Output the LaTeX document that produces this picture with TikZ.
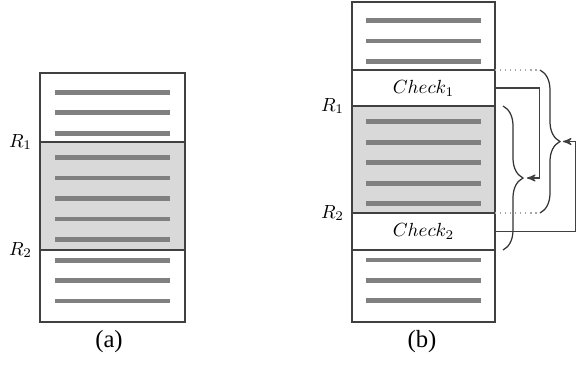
\documentclass[tikz,border=0pt]{standalone}
\usepackage{fontspec}
\newfontfamily\capfont{Liberation Serif}
\usetikzlibrary{arrows,positioning,decorations.pathreplacing}

\begin{document}
\begin{tikzpicture}[x=0.526pt,y=-0.526pt,>=stealth',
    frame/.style={draw=black!75,line width=0.7pt},
    bar/.style={draw=black!50,line width=2.6pt},
    region/.style={fill=black!15},
    cell/.style={minimum width=75.2pt,minimum height=19pt,inner sep=0pt},
    lbl/.style={anchor=east,inner sep=4pt},
    subcap/.style={font=\capfont\fontsize{13}{15}\selectfont},
    conn/.style={->,draw=black!75,line width=0.65pt},
    dots/.style={draw=black!35,dotted,line width=0.65pt},
    curly/.style={draw=black!80,line width=0.65pt,decorate,decoration={brace,amplitude=10.5pt}}]
  \useasboundingbox (0,0) rectangle (576,364);

  % (a) single block
  \fill[region] (40,142) rectangle (185,250);
  \draw[frame] (40,73) rectangle (185,322);
  \draw[frame] (40,142) -- (185,142) (40,250) -- (185,250);
  \foreach \y in {92.3,112.8,133.3,157.7,178,198.3,219,239.7,260.3,280.7,301}
    \draw[bar] (55,\y) -- (170,\y);
  \node[lbl] (ra1) at (40,142) {$R_1$};
  \node[lbl] (ra2) at (40,250) {$R_2$};
  \node[subcap] (capa) at (109,342) {(a)};

  % (b) block with check cells
  \fill[region] (352,106) rectangle (495,213);
  \draw[frame] (352,2) rectangle (495,322);
  \foreach \y in {70,106,213,250}
    \draw[frame] (352,\y) -- (495,\y);
  \foreach \y in {20.7,41,61.3,121.7,142.3,162.7,183.3,203.3,260,280.3,300.7}
    \draw[bar] (366,\y) -- (481,\y);
  \node[cell] (chka) at (423.5,88) {$Check_1$};
  \node[cell] (chkb) at (423.5,231.5) {$Check_2$};
  \node[lbl] (rb1) at (352,106) {$R_1$};
  \node[lbl] (rb2) at (352,213) {$R_2$};
  \node[subcap] (capb) at (422,342) {(b)};

  % braces and arrows
  \coordinate (ea) at (495,70);
  \coordinate (eb) at (495,213);
  \coordinate (up1) at (540,70);
  \coordinate (lo1) at (540,213);
  \coordinate (up2) at (503,106);
  \coordinate (lo2) at (503,250);
  \coordinate (tip1) at (563,141.5);
  \coordinate (tip2) at (527,178);
  \draw[dots] (ea) -- (up1);
  \draw[dots] (eb) -- (lo1);
  \draw[curly] (up1) -- (lo1);
  \draw[curly] (up2) -- (lo2);
  \draw[conn] (chkb.east) -- ++(80,0) |- (tip1);
  \draw[conn] (chka.east) -- ++(44,0) |- (tip2);
\end{tikzpicture}
\end{document}
